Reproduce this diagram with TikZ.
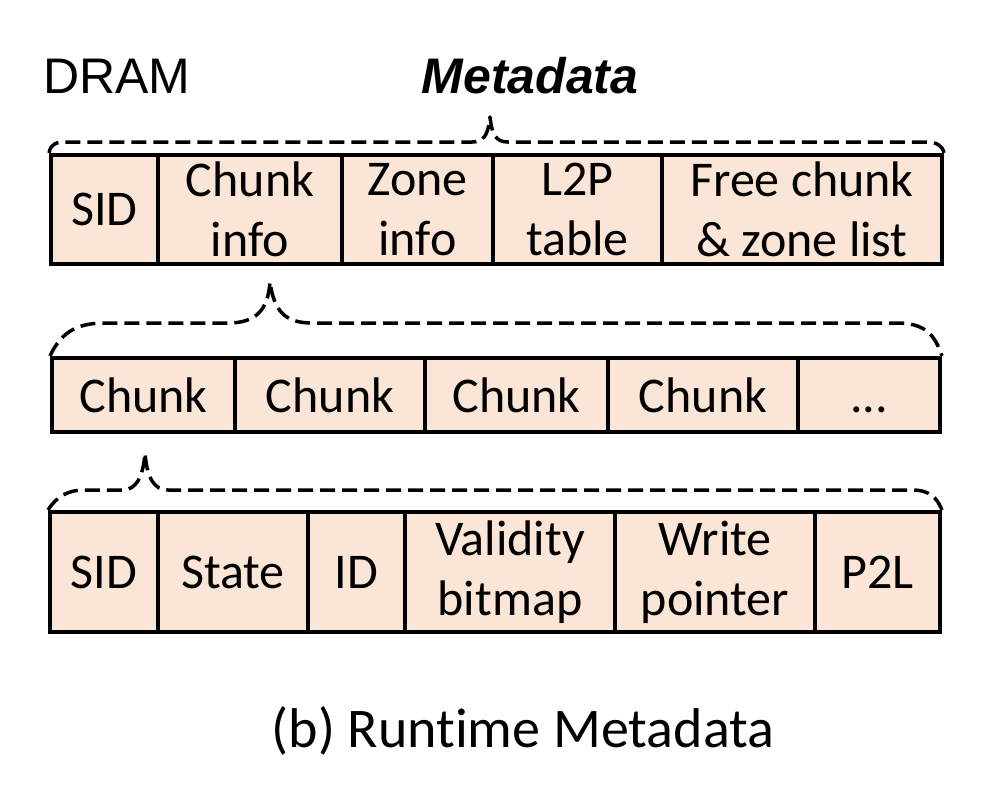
\documentclass[tikz,border=0pt]{standalone}
\usepackage{fontspec}
\setmainfont{Carlito}[Ligatures=NoCommon]
\newfontfamily\arialfont{Liberation Sans}
\definecolor{cellfill}{HTML}{FBE5D6}
\begin{document}
\begin{tikzpicture}[x=1pt,y=-1pt,
  cell/.style={draw, line width=4pt, fill=cellfill, inner sep=0pt, align=center,
    font=\fontsize{50}{60}\selectfont},
  rowa/.style={cell, minimum height=109pt},
  rowb/.style={cell, minimum height=74pt},
  rowc/.style={cell, minimum height=120pt},
  bracepath/.style={line width=3.5pt, dash pattern=on 15pt off 7pt, line join=round}]
\useasboundingbox (0,0) rectangle (996,800);
% titles
\node[anchor=base west, inner sep=0pt, font=\arialfont\fontsize{50}{60}\selectfont] (dram) at (43,93) {DRAM};
\node[anchor=base, inner sep=0pt, font=\arialfont\bfseries\itshape\fontsize{50}{60}\selectfont] (meta) at (530,93) {Metadata};
% row 1
\node[rowa, minimum width=107pt] (sida) at (104.5,209.5) {SID};
\node[rowa, minimum width=184pt] (chinfo) at (250,209.5) {Chunk\\info};
\node[rowa, minimum width=151pt] (zinfo) at (417.5,209.5) {Zone\\info};
\node[rowa, minimum width=169pt] (ltp) at (577.5,209.5) {L2P\\table};
\node[rowa, minimum width=280pt] (free) at (802,209.5) {Free chunk\\\& zone list};
% row 2
\node[rowb, minimum width=183pt] (cka) at (143.5,395) {Chunk};
\node[rowb, minimum width=190pt] (ckb) at (330,395) {Chunk};
\node[rowb, minimum width=183pt] (ckc) at (516.5,395) {Chunk};
\node[rowb, minimum width=190pt] (ckd) at (703,395) {Chunk};
\node[rowb, minimum width=142pt, text depth=0pt] (dots) at (869,395) {\vphantom{Chunk}...};
% row 3
\node[rowc, minimum width=108pt] (sidc) at (104,572) {SID};
\node[rowc, minimum width=150pt] (state) at (233,572) {State};
\node[rowc, minimum width=97pt] (idc) at (356.5,572) {ID};
\node[rowc, minimum width=210pt] (valid) at (510,572) {Validity\\bitmap};
\node[rowc, minimum width=200pt] (wptr) at (715,572) {Write\\pointer};
\node[rowc, minimum width=125pt] (ptl) at (877.5,572) {P2L};
% caption
\node[anchor=base, inner sep=0pt, font=\fontsize{56}{66}\selectfont] (cap) at (523,747) {(b) Runtime Metadata};
% braces
\draw[bracepath] (sida.north west) .. controls (51,143) and (56,142) .. (70,142) -- (472,142)
  .. controls (484,142) and (488,135) .. (490,117)
  .. controls (492,135) and (496,142) .. (508,142) -- (924,142)
  .. controls (937,142) and (942,145) .. (free.north east);
\draw[bracepath] (cka.north west) .. controls (62,330) and (80,323) .. (105,323) -- (228,323)
  .. controls (256,323) and (268,310) .. (270,282)
  .. controls (274,310) and (284,323) .. (312,323) -- (897,323)
  .. controls (925,323) and (935,335) .. (dots.north east);
\draw[bracepath] (sidc.north west) .. controls (57,496) and (68,490) .. (85,490) -- (122,490)
  .. controls (136,490) and (143,478) .. (145,453)
  .. controls (147,478) and (154,490) .. (168,490) -- (912,490)
  .. controls (930,490) and (937,498) .. (ptl.north east);
\end{tikzpicture}
\end{document}
